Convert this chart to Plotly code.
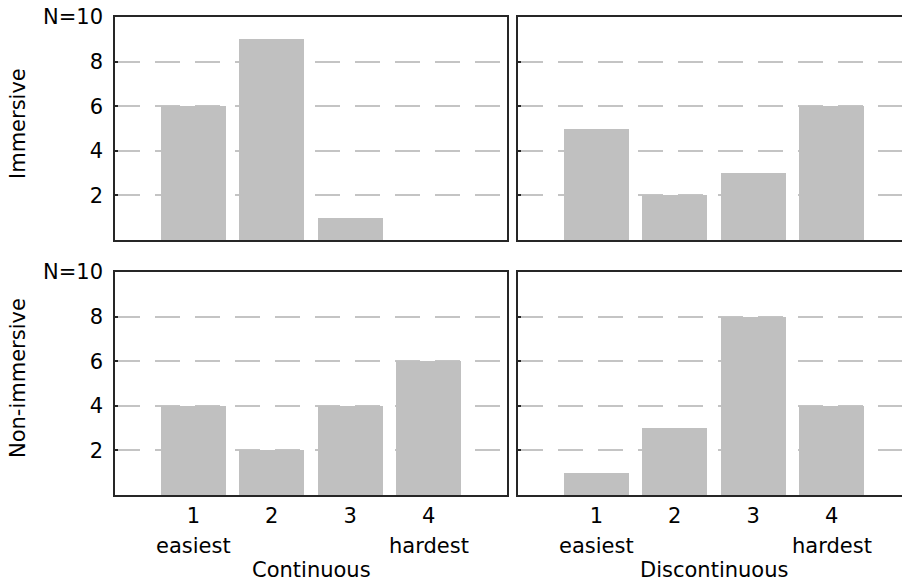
import plotly.graph_objects as go

categories = [1, 2, 3, 4]
difficulty_labels = ["easiest", "", "", "hardest"]
immersive_continuous = [6, 9, 1, 0]
immersive_discontinuous = [5, 2, 3, 6]
nonimmersive_continuous = [4, 2, 4, 6]
nonimmersive_discontinuous = [1, 3, 8, 4]
y_tickvals = [2, 4, 6, 8, 10]
y_ticktext = ["2", "4", "6", "8", "N=10"]
row_titles = ["Immersive", "Non-immersive"]
col_titles = ["Continuous", "Discontinuous"]

W, H = 902, 581
ML, MR, MT, MB = 115, 0, 17, 86
pw = W - ML - MR
ph = H - MT - MB

def fx(px):
    return (px - ML) / pw

def fy(py):
    return (H - MB - py) / ph

FONT = "DejaVu Sans, Liberation Sans, sans-serif"
FS = 21
BAR = "#c0c0c0"
AX = "#262626"

fig = go.Figure()

panels = [
    (immersive_continuous, "x", "y"),
    (immersive_discontinuous, "x2", "y2"),
    (nonimmersive_continuous, "x3", "y3"),
    (nonimmersive_discontinuous, "x4", "y4"),
]
for vals, xa, ya in panels:
    fig.add_trace(go.Bar(x=categories, y=vals, xaxis=xa, yaxis=ya,
                         marker=dict(color=BAR, line=dict(width=0)),
                         width=0.83, showlegend=False, hoverinfo="skip"))

left_dom = [0, fx(507)]
right_dom = [fx(518), 1]
top_dom = [fy(240), 1]
bot_dom = [0, fy(272)]
right_range = [0, (902 - 518) / (392 / 5)]

def xaxis(dom, rng, anchor, show_labels):
    return dict(domain=dom, range=rng, anchor=anchor, tickvals=categories,
                ticktext=[str(c) for c in categories],
                showticklabels=show_labels, ticks="", showgrid=False,
                zeroline=False, showline=True, linecolor=AX, linewidth=1.5,
                mirror=True, tickfont=dict(family=FONT, size=FS, color="black"),
                ticklabelstandoff=1, fixedrange=True)

def yaxis(dom, anchor, show_labels, mirror):
    return dict(domain=dom, range=[0, 10], anchor=anchor, tickvals=y_tickvals,
                ticktext=y_ticktext, showticklabels=show_labels,
                ticks="inside", ticklen=3, tickwidth=1.5, tickcolor=AX,
                showgrid=True, gridcolor="#c4c4c4", gridwidth=1.5,
                griddash="25px,15px", zeroline=False, showline=True,
                linecolor=AX, linewidth=1.5, mirror=mirror,
                tickfont=dict(family=FONT, size=FS, color="black"),
                ticklabelstandoff=6, fixedrange=True)

fig.update_layout(
    width=W, height=H,
    margin=dict(l=ML, r=MR, t=MT, b=MB),
    paper_bgcolor="white", plot_bgcolor="white",
    bargap=0,
    xaxis=xaxis(left_dom, [0, 5], "y", False),
    yaxis=yaxis(top_dom, "x", True, True),
    xaxis2=xaxis(right_dom, right_range, "y2", False),
    yaxis2=yaxis(top_dom, "x2", False, False),
    xaxis3=xaxis(left_dom, [0, 5], "y3", True),
    yaxis3=yaxis(bot_dom, "x3", True, True),
    xaxis4=xaxis(right_dom, right_range, "y4", True),
    yaxis4=yaxis(bot_dom, "x4", False, False),
)

annotations = []
for xa in ["x3", "x4"]:
    for c, lab in zip(categories, difficulty_labels):
        if lab:
            annotations.append(dict(x=c, xref=xa, y=fy(546), yref="paper",
                                    text=lab, showarrow=False,
                                    font=dict(family=FONT, size=FS, color="black"),
                                    xanchor="center", yanchor="middle"))
for xa, t in zip(["x3", "x4"], col_titles):
    dom = left_dom if xa == "x3" else [fx(518), fx(910)]
    annotations.append(dict(x=(dom[0] + dom[1]) / 2, xref="paper", y=fy(570),
                            yref="paper", text=t, showarrow=False,
                            font=dict(family=FONT, size=FS, color="black"),
                            xanchor="center", yanchor="middle"))
for t, yc in zip(row_titles, [124, 378]):
    annotations.append(dict(x=fx(18), xref="paper", y=fy(yc), yref="paper",
                            text=t, textangle=-90, showarrow=False,
                            font=dict(family=FONT, size=FS, color="black"),
                            xanchor="center", yanchor="middle"))
fig.update_layout(annotations=annotations)

fig.write_html("out.html")
